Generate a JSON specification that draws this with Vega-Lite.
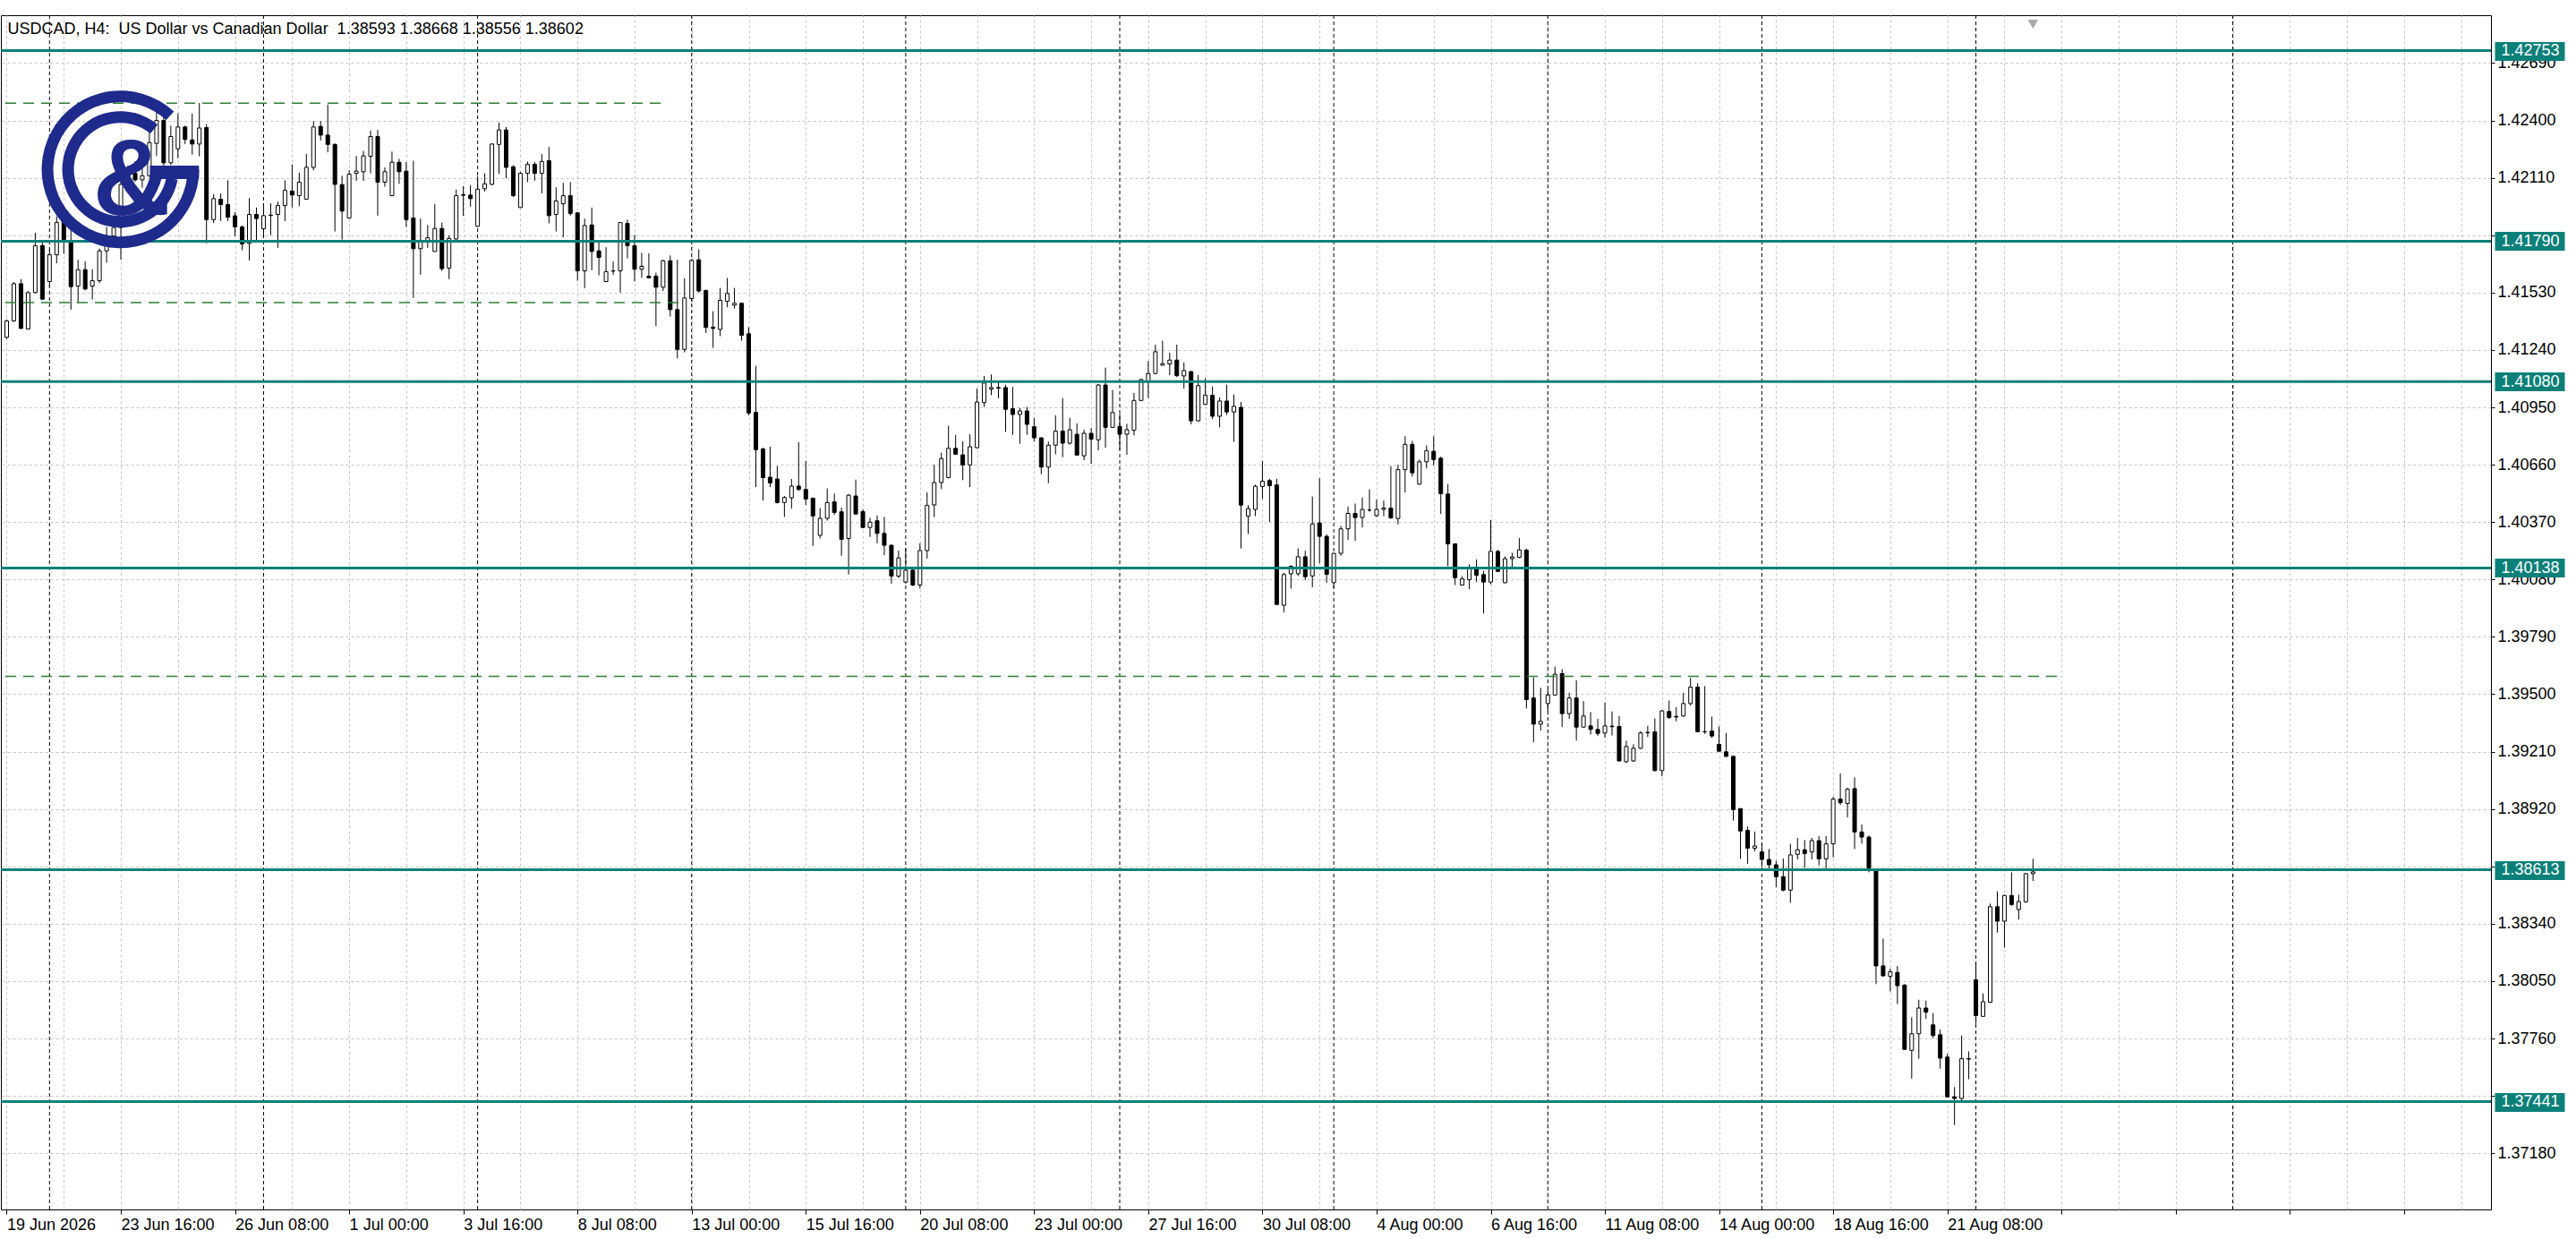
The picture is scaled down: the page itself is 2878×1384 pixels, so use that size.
{
"$schema": "https://vega.github.io/schema/vega-lite/v6.json",
"width": 2782, "height": 1334,
"autosize": {"type": "none"},
"padding": {"left": 1, "top": 17, "right": 95, "bottom": 33},
"background": "white",
"view": {"stroke": "black", "strokeWidth": 1, "fill": "white"},
"config": {"font": "Liberation Sans"},
"title": {"text": "USDCAD, H4:\u00a0 US Dollar vs Canadian Dollar\u00a0 1.38593 1.38668 1.38556 1.38602", "anchor": "start", "offset": -39, "baseline": "alphabetic", "font": "Liberation Sans", "fontSize": 18, "fontWeight": "normal", "color": "black", "dx": 9},
"resolve": {"axis": {"x": "independent", "y": "independent"}},
"datasets": {
"seps": [{"i":6},{"i":36},{"i":66},{"i":96},{"i":126},{"i":156},{"i":186},{"i":216},{"i":246},{"i":276},{"i":312}],
"levels": [{"p":1.42753},{"p":1.41790},{"p":1.41080},{"p":1.40138},{"p":1.38613},{"p":1.37441}],
"dashes": [{"x1":-0.1875,"x2":92,"y":1.42487},{"x1":-0.1875,"x2":94.6,"y":1.41479},{"x1":-0.1875,"x2":287.5,"y":1.39590}],
"candles": [
{"i":0,"o":1.41304,"h":1.41394,"l":1.41296,"c":1.41387},
{"i":1,"o":1.41387,"h":1.41583,"l":1.41382,"c":1.41575},
{"i":2,"o":1.41575,"h":1.41598,"l":1.41346,"c":1.41349},
{"i":3,"o":1.41346,"h":1.41538,"l":1.41344,"c":1.41530},
{"i":4,"o":1.41530,"h":1.41832,"l":1.41527,"c":1.41767},
{"i":5,"o":1.41768,"h":1.41786,"l":1.41492,"c":1.41497},
{"i":6,"o":1.41586,"h":1.41749,"l":1.41560,"c":1.41721},
{"i":7,"o":1.41721,"h":1.41915,"l":1.41678,"c":1.41884},
{"i":8,"o":1.41892,"h":1.41915,"l":1.41726,"c":1.41798},
{"i":9,"o":1.41789,"h":1.41847,"l":1.41444,"c":1.41560},
{"i":10,"o":1.41563,"h":1.41696,"l":1.41477,"c":1.41646},
{"i":11,"o":1.41646,"h":1.41688,"l":1.41542,"c":1.41548},
{"i":12,"o":1.41563,"h":1.41648,"l":1.41495,"c":1.41590},
{"i":13,"o":1.41590,"h":1.41753,"l":1.41578,"c":1.41741},
{"i":14,"o":1.41741,"h":1.41862,"l":1.41681,"c":1.41816},
{"i":15,"o":1.41816,"h":1.41915,"l":1.41779,"c":1.41859},
{"i":16,"o":1.41859,"h":1.42166,"l":1.41696,"c":1.42077},
{"i":17,"o":1.42077,"h":1.42171,"l":1.42050,"c":1.42133},
{"i":18,"o":1.42133,"h":1.42193,"l":1.42090,"c":1.42100},
{"i":19,"o":1.42100,"h":1.42160,"l":1.42060,"c":1.42121},
{"i":20,"o":1.42121,"h":1.42337,"l":1.42115,"c":1.42288},
{"i":21,"o":1.42284,"h":1.42442,"l":1.42221,"c":1.42400},
{"i":22,"o":1.42400,"h":1.42423,"l":1.42151,"c":1.42186},
{"i":23,"o":1.42186,"h":1.42374,"l":1.42175,"c":1.42319},
{"i":24,"o":1.42257,"h":1.42435,"l":1.42209,"c":1.42367},
{"i":25,"o":1.42367,"h":1.42374,"l":1.42281,"c":1.42304},
{"i":26,"o":1.42302,"h":1.42435,"l":1.42227,"c":1.42281},
{"i":27,"o":1.42281,"h":1.42488,"l":1.42219,"c":1.42362},
{"i":28,"o":1.42364,"h":1.42382,"l":1.41779,"c":1.41899},
{"i":29,"o":1.41899,"h":1.42028,"l":1.41881,"c":1.42005},
{"i":30,"o":1.42002,"h":1.42031,"l":1.41892,"c":1.41975},
{"i":31,"o":1.41975,"h":1.42098,"l":1.41892,"c":1.41911},
{"i":32,"o":1.41918,"h":1.41937,"l":1.41816,"c":1.41862},
{"i":33,"o":1.41862,"h":1.41869,"l":1.41744,"c":1.41776},
{"i":34,"o":1.41779,"h":1.42008,"l":1.41693,"c":1.41925},
{"i":35,"o":1.41925,"h":1.41960,"l":1.41794,"c":1.41904},
{"i":36,"o":1.41853,"h":1.41982,"l":1.41809,"c":1.41919},
{"i":37,"o":1.41922,"h":1.41982,"l":1.41821,"c":1.41920},
{"i":38,"o":1.41925,"h":1.41990,"l":1.41756,"c":1.41970},
{"i":39,"o":1.41970,"h":1.42098,"l":1.41892,"c":1.42047},
{"i":40,"o":1.42043,"h":1.42178,"l":1.41960,"c":1.42023},
{"i":41,"o":1.42020,"h":1.42136,"l":1.41967,"c":1.42088},
{"i":42,"o":1.42002,"h":1.42231,"l":1.42000,"c":1.42163},
{"i":43,"o":1.42163,"h":1.42397,"l":1.42148,"c":1.42367},
{"i":44,"o":1.42370,"h":1.42397,"l":1.42299,"c":1.42326},
{"i":45,"o":1.42326,"h":1.42480,"l":1.42239,"c":1.42279},
{"i":46,"o":1.42279,"h":1.42284,"l":1.41839,"c":1.42077},
{"i":47,"o":1.42076,"h":1.42121,"l":1.41798,"c":1.41942},
{"i":48,"o":1.41907,"h":1.42148,"l":1.41904,"c":1.42129},
{"i":49,"o":1.42133,"h":1.42221,"l":1.42095,"c":1.42144},
{"i":50,"o":1.42141,"h":1.42246,"l":1.42095,"c":1.42221},
{"i":51,"o":1.42219,"h":1.42349,"l":1.42133,"c":1.42319},
{"i":52,"o":1.42319,"h":1.42352,"l":1.41919,"c":1.42088},
{"i":53,"o":1.42088,"h":1.42163,"l":1.42065,"c":1.42141},
{"i":54,"o":1.42020,"h":1.42243,"l":1.42017,"c":1.42189},
{"i":55,"o":1.42189,"h":1.42206,"l":1.42080,"c":1.42141},
{"i":56,"o":1.42144,"h":1.42190,"l":1.41862,"c":1.41899},
{"i":57,"o":1.41907,"h":1.42197,"l":1.41503,"c":1.41752},
{"i":58,"o":1.41752,"h":1.41904,"l":1.41620,"c":1.41789},
{"i":59,"o":1.41794,"h":1.41872,"l":1.41756,"c":1.41807},
{"i":60,"o":1.41738,"h":1.41978,"l":1.41737,"c":1.41854},
{"i":61,"o":1.41854,"h":1.41884,"l":1.41640,"c":1.41651},
{"i":62,"o":1.41654,"h":1.41820,"l":1.41598,"c":1.41804},
{"i":63,"o":1.41801,"h":1.42050,"l":1.41798,"c":1.42020},
{"i":64,"o":1.42025,"h":1.42068,"l":1.41918,"c":1.42022},
{"i":65,"o":1.42023,"h":1.42073,"l":1.41964,"c":1.42005},
{"i":66,"o":1.41865,"h":1.42118,"l":1.41862,"c":1.42053},
{"i":67,"o":1.42055,"h":1.42133,"l":1.42040,"c":1.42080},
{"i":68,"o":1.42077,"h":1.42284,"l":1.42073,"c":1.42281},
{"i":69,"o":1.42279,"h":1.42390,"l":1.42130,"c":1.42352},
{"i":70,"o":1.42352,"h":1.42367,"l":1.42108,"c":1.42163},
{"i":71,"o":1.42166,"h":1.42174,"l":1.42013,"c":1.42020},
{"i":72,"o":1.41960,"h":1.42141,"l":1.41958,"c":1.42133},
{"i":73,"o":1.42133,"h":1.42193,"l":1.42088,"c":1.42178},
{"i":74,"o":1.42178,"h":1.42190,"l":1.42095,"c":1.42133},
{"i":75,"o":1.42133,"h":1.42231,"l":1.42032,"c":1.42193},
{"i":76,"o":1.42197,"h":1.42266,"l":1.41880,"c":1.41919},
{"i":77,"o":1.41925,"h":1.42062,"l":1.41839,"c":1.41993},
{"i":78,"o":1.41979,"h":1.42085,"l":1.41809,"c":1.42020},
{"i":79,"o":1.42020,"h":1.42088,"l":1.41919,"c":1.41930},
{"i":80,"o":1.41933,"h":1.41937,"l":1.41590,"c":1.41640},
{"i":81,"o":1.41640,"h":1.41904,"l":1.41553,"c":1.41869},
{"i":82,"o":1.41872,"h":1.41960,"l":1.41643,"c":1.41738},
{"i":83,"o":1.41741,"h":1.41786,"l":1.41617,"c":1.41708},
{"i":84,"o":1.41586,"h":1.41759,"l":1.41583,"c":1.41636},
{"i":85,"o":1.41640,"h":1.41687,"l":1.41620,"c":1.41639},
{"i":86,"o":1.41640,"h":1.41886,"l":1.41530,"c":1.41884},
{"i":87,"o":1.41880,"h":1.41899,"l":1.41703,"c":1.41767},
{"i":88,"o":1.41767,"h":1.41821,"l":1.41587,"c":1.41648},
{"i":89,"o":1.41648,"h":1.41731,"l":1.41605,"c":1.41663},
{"i":90,"o":1.41613,"h":1.41729,"l":1.41602,"c":1.41605},
{"i":91,"o":1.41613,"h":1.41631,"l":1.41361,"c":1.41557},
{"i":92,"o":1.41557,"h":1.41696,"l":1.41538,"c":1.41691},
{"i":93,"o":1.41691,"h":1.41718,"l":1.41409,"c":1.41444},
{"i":94,"o":1.41444,"h":1.41696,"l":1.41198,"c":1.41243},
{"i":95,"o":1.41243,"h":1.41602,"l":1.41228,"c":1.41503},
{"i":96,"o":1.41500,"h":1.41699,"l":1.41485,"c":1.41693},
{"i":97,"o":1.41696,"h":1.41749,"l":1.41530,"c":1.41538},
{"i":98,"o":1.41541,"h":1.41545,"l":1.41326,"c":1.41354},
{"i":99,"o":1.41355,"h":1.41436,"l":1.41251,"c":1.41349},
{"i":100,"o":1.41344,"h":1.41554,"l":1.41310,"c":1.41491},
{"i":101,"o":1.41486,"h":1.41604,"l":1.41456,"c":1.41526},
{"i":102,"o":1.41467,"h":1.41554,"l":1.41449,"c":1.41476},
{"i":103,"o":1.41476,"h":1.41480,"l":1.41287,"c":1.41314},
{"i":104,"o":1.41322,"h":1.41355,"l":1.40910,"c":1.40922},
{"i":105,"o":1.40925,"h":1.41159,"l":1.40547,"c":1.40736},
{"i":106,"o":1.40740,"h":1.40746,"l":1.40479,"c":1.40595},
{"i":107,"o":1.40597,"h":1.40751,"l":1.40547,"c":1.40568},
{"i":108,"o":1.40588,"h":1.40653,"l":1.40464,"c":1.40469},
{"i":109,"o":1.40469,"h":1.40502,"l":1.40396,"c":1.40494},
{"i":110,"o":1.40493,"h":1.40588,"l":1.40438,"c":1.40552},
{"i":111,"o":1.40552,"h":1.40774,"l":1.40529,"c":1.40535},
{"i":112,"o":1.40535,"h":1.40679,"l":1.40457,"c":1.40487},
{"i":113,"o":1.40491,"h":1.40494,"l":1.40250,"c":1.40401},
{"i":114,"o":1.40303,"h":1.40441,"l":1.40287,"c":1.40389},
{"i":115,"o":1.40389,"h":1.40540,"l":1.40378,"c":1.40469},
{"i":116,"o":1.40472,"h":1.40514,"l":1.40407,"c":1.40419},
{"i":117,"o":1.40422,"h":1.40444,"l":1.40200,"c":1.40283},
{"i":118,"o":1.40287,"h":1.40512,"l":1.40106,"c":1.40506},
{"i":119,"o":1.40502,"h":1.40585,"l":1.40408,"c":1.40411},
{"i":120,"o":1.40423,"h":1.40434,"l":1.40339,"c":1.40343},
{"i":121,"o":1.40343,"h":1.40392,"l":1.40295,"c":1.40370},
{"i":122,"o":1.40377,"h":1.40404,"l":1.40263,"c":1.40313},
{"i":123,"o":1.40313,"h":1.40396,"l":1.40203,"c":1.40253},
{"i":124,"o":1.40253,"h":1.40257,"l":1.40059,"c":1.40097},
{"i":125,"o":1.40097,"h":1.40226,"l":1.40087,"c":1.40189},
{"i":126,"o":1.40067,"h":1.40238,"l":1.40059,"c":1.40127},
{"i":127,"o":1.40127,"h":1.40132,"l":1.40046,"c":1.40052},
{"i":128,"o":1.40052,"h":1.40263,"l":1.40034,"c":1.40226},
{"i":129,"o":1.40226,"h":1.40521,"l":1.40185,"c":1.40454},
{"i":130,"o":1.40457,"h":1.40660,"l":1.40396,"c":1.40570},
{"i":131,"o":1.40570,"h":1.40721,"l":1.40537,"c":1.40691},
{"i":132,"o":1.40595,"h":1.40857,"l":1.40592,"c":1.40743},
{"i":133,"o":1.40743,"h":1.40811,"l":1.40710,"c":1.40713},
{"i":134,"o":1.40710,"h":1.40778,"l":1.40582,"c":1.40659},
{"i":135,"o":1.40659,"h":1.40814,"l":1.40547,"c":1.40751},
{"i":136,"o":1.40746,"h":1.41045,"l":1.40743,"c":1.40977},
{"i":137,"o":1.40974,"h":1.41109,"l":1.40952,"c":1.41073},
{"i":138,"o":1.41042,"h":1.41116,"l":1.41012,"c":1.41050},
{"i":139,"o":1.41050,"h":1.41079,"l":1.40996,"c":1.41047},
{"i":140,"o":1.41050,"h":1.41065,"l":1.40826,"c":1.40940},
{"i":141,"o":1.40943,"h":1.41053,"l":1.40811,"c":1.40914},
{"i":142,"o":1.40914,"h":1.40947,"l":1.40766,"c":1.40932},
{"i":143,"o":1.40932,"h":1.40952,"l":1.40811,"c":1.40864},
{"i":144,"o":1.40852,"h":1.40897,"l":1.40778,"c":1.40796},
{"i":145,"o":1.40796,"h":1.40799,"l":1.40612,"c":1.40648},
{"i":146,"o":1.40648,"h":1.40777,"l":1.40567,"c":1.40759},
{"i":147,"o":1.40759,"h":1.40910,"l":1.40713,"c":1.40830},
{"i":148,"o":1.40830,"h":1.40997,"l":1.40698,"c":1.40769},
{"i":149,"o":1.40769,"h":1.40897,"l":1.40762,"c":1.40837},
{"i":150,"o":1.40814,"h":1.40869,"l":1.40705,"c":1.40709},
{"i":151,"o":1.40705,"h":1.40837,"l":1.40683,"c":1.40819},
{"i":152,"o":1.40819,"h":1.40846,"l":1.40665,"c":1.40789},
{"i":153,"o":1.40786,"h":1.41068,"l":1.40733,"c":1.41063},
{"i":154,"o":1.41063,"h":1.41151,"l":1.40746,"c":1.40849},
{"i":155,"o":1.40849,"h":1.41038,"l":1.40846,"c":1.40924},
{"i":156,"o":1.40853,"h":1.40917,"l":1.40736,"c":1.40814},
{"i":157,"o":1.40814,"h":1.40867,"l":1.40710,"c":1.40837},
{"i":158,"o":1.40834,"h":1.41023,"l":1.40808,"c":1.40985},
{"i":159,"o":1.40985,"h":1.41094,"l":1.40982,"c":1.41091},
{"i":160,"o":1.41078,"h":1.41184,"l":1.40997,"c":1.41121},
{"i":161,"o":1.41121,"h":1.41267,"l":1.41118,"c":1.41231},
{"i":162,"o":1.41163,"h":1.41287,"l":1.41162,"c":1.41171},
{"i":163,"o":1.41169,"h":1.41226,"l":1.41113,"c":1.41189},
{"i":164,"o":1.41189,"h":1.41267,"l":1.41103,"c":1.41110},
{"i":165,"o":1.41109,"h":1.41177,"l":1.41045,"c":1.41136},
{"i":166,"o":1.41131,"h":1.41133,"l":1.40864,"c":1.40882},
{"i":167,"o":1.40882,"h":1.41113,"l":1.40879,"c":1.41060},
{"i":168,"o":1.40965,"h":1.41098,"l":1.40962,"c":1.41012},
{"i":169,"o":1.41011,"h":1.41056,"l":1.40890,"c":1.40905},
{"i":170,"o":1.40905,"h":1.41000,"l":1.40849,"c":1.40982},
{"i":171,"o":1.40982,"h":1.41065,"l":1.40912,"c":1.40927},
{"i":172,"o":1.40927,"h":1.41015,"l":1.40776,"c":1.40955},
{"i":173,"o":1.40950,"h":1.40977,"l":1.40237,"c":1.40456},
{"i":174,"o":1.40400,"h":1.40456,"l":1.40310,"c":1.40438},
{"i":175,"o":1.40434,"h":1.40559,"l":1.40400,"c":1.40551},
{"i":176,"o":1.40550,"h":1.40680,"l":1.40487,"c":1.40577},
{"i":177,"o":1.40580,"h":1.40589,"l":1.40370,"c":1.40554},
{"i":178,"o":1.40558,"h":1.40589,"l":1.39950,"c":1.39954},
{"i":179,"o":1.39950,"h":1.40114,"l":1.39913,"c":1.40105},
{"i":180,"o":1.40109,"h":1.40151,"l":1.40034,"c":1.40147},
{"i":181,"o":1.40109,"h":1.40237,"l":1.40098,"c":1.40195},
{"i":182,"o":1.40195,"h":1.40225,"l":1.40076,"c":1.40094},
{"i":183,"o":1.40098,"h":1.40499,"l":1.40041,"c":1.40361},
{"i":184,"o":1.40366,"h":1.40592,"l":1.40162,"c":1.40298},
{"i":185,"o":1.40298,"h":1.40308,"l":1.40064,"c":1.40106},
{"i":186,"o":1.40064,"h":1.40215,"l":1.40037,"c":1.40212},
{"i":187,"o":1.40212,"h":1.40351,"l":1.40200,"c":1.40336},
{"i":188,"o":1.40336,"h":1.40449,"l":1.40280,"c":1.40414},
{"i":189,"o":1.40414,"h":1.40464,"l":1.40275,"c":1.40393},
{"i":190,"o":1.40393,"h":1.40494,"l":1.40343,"c":1.40434},
{"i":191,"o":1.40431,"h":1.40535,"l":1.40423,"c":1.40431},
{"i":192,"o":1.40403,"h":1.40484,"l":1.40396,"c":1.40434},
{"i":193,"o":1.40434,"h":1.40479,"l":1.40400,"c":1.40441},
{"i":194,"o":1.40441,"h":1.40653,"l":1.40388,"c":1.40391},
{"i":195,"o":1.40388,"h":1.40660,"l":1.40358,"c":1.40635},
{"i":196,"o":1.40635,"h":1.40804,"l":1.40520,"c":1.40763},
{"i":197,"o":1.40763,"h":1.40781,"l":1.40600,"c":1.40619},
{"i":198,"o":1.40562,"h":1.40686,"l":1.40559,"c":1.40675},
{"i":199,"o":1.40675,"h":1.40758,"l":1.40641,"c":1.40731},
{"i":200,"o":1.40728,"h":1.40804,"l":1.40656,"c":1.40686},
{"i":201,"o":1.40693,"h":1.40701,"l":1.40411,"c":1.40514},
{"i":202,"o":1.40512,"h":1.40562,"l":1.40147,"c":1.40260},
{"i":203,"o":1.40260,"h":1.40263,"l":1.40052,"c":1.40089},
{"i":204,"o":1.40052,"h":1.40097,"l":1.40049,"c":1.40083},
{"i":205,"o":1.40079,"h":1.40157,"l":1.40031,"c":1.40139},
{"i":206,"o":1.40139,"h":1.40182,"l":1.40067,"c":1.40101},
{"i":207,"o":1.40105,"h":1.40124,"l":1.39908,"c":1.40067},
{"i":208,"o":1.40067,"h":1.40381,"l":1.40056,"c":1.40222},
{"i":209,"o":1.40222,"h":1.40230,"l":1.40117,"c":1.40121},
{"i":210,"o":1.40064,"h":1.40197,"l":1.40061,"c":1.40185},
{"i":211,"o":1.40185,"h":1.40215,"l":1.40132,"c":1.40194},
{"i":212,"o":1.40192,"h":1.40290,"l":1.40188,"c":1.40230},
{"i":213,"o":1.40228,"h":1.40236,"l":1.39428,"c":1.39473},
{"i":214,"o":1.39481,"h":1.39586,"l":1.39257,"c":1.39349},
{"i":215,"o":1.39349,"h":1.39533,"l":1.39317,"c":1.39363},
{"i":216,"o":1.39453,"h":1.39526,"l":1.39413,"c":1.39496},
{"i":217,"o":1.39496,"h":1.39639,"l":1.39493,"c":1.39601},
{"i":218,"o":1.39604,"h":1.39627,"l":1.39334,"c":1.39402},
{"i":219,"o":1.39402,"h":1.39508,"l":1.39375,"c":1.39481},
{"i":220,"o":1.39481,"h":1.39571,"l":1.39266,"c":1.39334},
{"i":221,"o":1.39334,"h":1.39465,"l":1.39330,"c":1.39390},
{"i":222,"o":1.39340,"h":1.39410,"l":1.39296,"c":1.39322},
{"i":223,"o":1.39322,"h":1.39376,"l":1.39289,"c":1.39302},
{"i":224,"o":1.39304,"h":1.39458,"l":1.39280,"c":1.39340},
{"i":225,"o":1.39339,"h":1.39413,"l":1.39292,"c":1.39336},
{"i":226,"o":1.39337,"h":1.39390,"l":1.39160,"c":1.39163},
{"i":227,"o":1.39159,"h":1.39265,"l":1.39153,"c":1.39236},
{"i":228,"o":1.39163,"h":1.39247,"l":1.39159,"c":1.39227},
{"i":229,"o":1.39227,"h":1.39314,"l":1.39224,"c":1.39304},
{"i":230,"o":1.39307,"h":1.39340,"l":1.39284,"c":1.39305},
{"i":231,"o":1.39310,"h":1.39378,"l":1.39111,"c":1.39114},
{"i":232,"o":1.39114,"h":1.39420,"l":1.39085,"c":1.39416},
{"i":233,"o":1.39413,"h":1.39468,"l":1.39375,"c":1.39382},
{"i":234,"o":1.39388,"h":1.39435,"l":1.39363,"c":1.39385},
{"i":235,"o":1.39390,"h":1.39508,"l":1.39387,"c":1.39453},
{"i":236,"o":1.39453,"h":1.39582,"l":1.39443,"c":1.39536},
{"i":237,"o":1.39536,"h":1.39556,"l":1.39310,"c":1.39311},
{"i":238,"o":1.39311,"h":1.39541,"l":1.39299,"c":1.39310},
{"i":239,"o":1.39314,"h":1.39387,"l":1.39280,"c":1.39289},
{"i":240,"o":1.39247,"h":1.39337,"l":1.39209,"c":1.39212},
{"i":241,"o":1.39209,"h":1.39304,"l":1.39182,"c":1.39186},
{"i":242,"o":1.39186,"h":1.39191,"l":1.38861,"c":1.38917},
{"i":243,"o":1.38922,"h":1.38922,"l":1.38668,"c":1.38809},
{"i":244,"o":1.38812,"h":1.38831,"l":1.38643,"c":1.38722},
{"i":245,"o":1.38722,"h":1.38806,"l":1.38706,"c":1.38733},
{"i":246,"o":1.38703,"h":1.38748,"l":1.38627,"c":1.38665},
{"i":247,"o":1.38665,"h":1.38718,"l":1.38615,"c":1.38638},
{"i":248,"o":1.38638,"h":1.38658,"l":1.38525,"c":1.38578},
{"i":249,"o":1.38578,"h":1.38670,"l":1.38504,"c":1.38510},
{"i":250,"o":1.38510,"h":1.38744,"l":1.38446,"c":1.38688},
{"i":251,"o":1.38691,"h":1.38774,"l":1.38665,"c":1.38714},
{"i":252,"o":1.38714,"h":1.38763,"l":1.38623,"c":1.38695},
{"i":253,"o":1.38703,"h":1.38774,"l":1.38665,"c":1.38760},
{"i":254,"o":1.38760,"h":1.38783,"l":1.38635,"c":1.38668},
{"i":255,"o":1.38668,"h":1.38783,"l":1.38615,"c":1.38744},
{"i":256,"o":1.38744,"h":1.38982,"l":1.38676,"c":1.38970},
{"i":257,"o":1.38970,"h":1.39100,"l":1.38940,"c":1.38952},
{"i":258,"o":1.38948,"h":1.39028,"l":1.38877,"c":1.39020},
{"i":259,"o":1.39023,"h":1.39080,"l":1.38718,"c":1.38804},
{"i":260,"o":1.38804,"h":1.38842,"l":1.38745,"c":1.38778},
{"i":261,"o":1.38778,"h":1.38786,"l":1.38600,"c":1.38622},
{"i":262,"o":1.38608,"h":1.38613,"l":1.38035,"c":1.38127},
{"i":263,"o":1.38127,"h":1.38265,"l":1.38072,"c":1.38077},
{"i":264,"o":1.38074,"h":1.38114,"l":1.37997,"c":1.38097},
{"i":265,"o":1.38094,"h":1.38127,"l":1.37934,"c":1.38027},
{"i":266,"o":1.38030,"h":1.38035,"l":1.37703,"c":1.37705},
{"i":267,"o":1.37700,"h":1.37867,"l":1.37557,"c":1.37784},
{"i":268,"o":1.37784,"h":1.37956,"l":1.37658,"c":1.37914},
{"i":269,"o":1.37914,"h":1.37951,"l":1.37859,"c":1.37893},
{"i":270,"o":1.37829,"h":1.37889,"l":1.37762,"c":1.37775},
{"i":271,"o":1.37779,"h":1.37805,"l":1.37608,"c":1.37661},
{"i":272,"o":1.37666,"h":1.37683,"l":1.37462,"c":1.37465},
{"i":273,"o":1.37465,"h":1.37515,"l":1.37323,"c":1.37457},
{"i":274,"o":1.37457,"h":1.37775,"l":1.37448,"c":1.37658},
{"i":275,"o":1.37658,"h":1.37695,"l":1.37554,"c":1.37656},
{"i":276,"o":1.38057,"h":1.38144,"l":1.37834,"c":1.37876},
{"i":277,"o":1.37872,"h":1.37988,"l":1.37871,"c":1.37946},
{"i":278,"o":1.37943,"h":1.38442,"l":1.37940,"c":1.38426},
{"i":279,"o":1.38426,"h":1.38504,"l":1.38295,"c":1.38353},
{"i":280,"o":1.38353,"h":1.38487,"l":1.38219,"c":1.38483},
{"i":281,"o":1.38483,"h":1.38600,"l":1.38429,"c":1.38437},
{"i":282,"o":1.38412,"h":1.38487,"l":1.38362,"c":1.38452},
{"i":283,"o":1.38451,"h":1.38597,"l":1.38446,"c":1.38593},
{"i":284,"o":1.38593,"h":1.38668,"l":1.38556,"c":1.38602}
]
},
"layer": [
{
"data": {"name": "seps"},
"mark": {"type": "rule", "color": "black", "strokeWidth": 1, "strokeDash": [4, 3]},
"encoding": {
"x": {"field": "i", "type": "quantitative", "scale": {"domain": [-0.1875, 347.5625], "nice": false, "zero": false},
"axis": {"title": null, "orient": "bottom", "values": [0,8,16,24,32,40,48,56,64,72,80,88,96,104,112,120,128,136,144,152,160,168,176,184,192,200,208,216,224,232,240,248,256,264,272,280,288,296,304,312,320,328,336,344],
"grid": true, "gridColor": "#c4c4c4", "gridDash": [3, 3], "gridWidth": 1, "domain": false,
"ticks": true, "tickSize": 5, "tickColor": "black", "tickOpacity": {"condition": {"test": "datum.value % 16 !== 0", "value": 0}, "value": 1},
"labelExpr": "['19 Jun 2026','23 Jun 16:00','26 Jun 08:00','1 Jul 00:00','3 Jul 16:00','8 Jul 08:00','13 Jul 00:00','15 Jul 16:00','20 Jul 08:00','23 Jul 00:00','27 Jul 16:00','30 Jul 08:00','4 Aug 00:00','6 Aug 16:00','11 Aug 08:00','14 Aug 00:00','18 Aug 16:00','21 Aug 08:00'][datum.value / 16] || ''",
"labelAlign": "left", "labelBaseline": "top", "labelPadding": 3, "labelFont": "Liberation Sans", "labelFontSize": 18, "labelColor": "black",
"labelOverlap": false, "labelFlush": false, "labelBound": false}}
}
},
{
"data": {"name": "candles"},
"mark": {"type": "rule", "color": "black", "strokeWidth": 1},
"encoding": {
"x": {"field": "i", "type": "quantitative", "scale": {"domain": [-0.1875, 347.5625], "nice": false, "zero": false}, "axis": null},
"y": {"field": "l", "type": "quantitative", "scale": {"domain": [1.36896, 1.42932], "nice": false, "zero": false},
"axis": {"title": null, "orient": "right", "values": [1.3718,1.3747,1.3776,1.3805,1.3834,1.3863,1.3892,1.3921,1.395,1.3979,1.4008,1.4037,1.4066,1.4095,1.4124,1.4153,1.4182,1.4211,1.424,1.4269],
"format": ".5f", "labelExpr": "(abs(datum.value - 1.4182) < 0.00001 || abs(datum.value - 1.3863) < 0.00001 || abs(datum.value - 1.3747) < 0.00001) ? '' : datum.label",
"grid": true, "gridColor": "#c4c4c4", "gridDash": [3, 3], "gridWidth": 1, "domain": false,
"ticks": true, "tickSize": 4, "tickColor": "black", "labelPadding": 3, "labelFont": "Liberation Sans", "labelFontSize": 18, "labelColor": "black",
"labelBaseline": "middle", "labelOverlap": false, "labelFlush": false, "labelBound": false}},
"y2": {"field": "h"}
}
},
{
"data": {"name": "candles"},
"mark": {"type": "bar", "width": 4, "stroke": "black", "strokeWidth": 1},
"encoding": {
"x": {"field": "i", "type": "quantitative", "scale": {"domain": [-0.1875, 347.5625], "nice": false, "zero": false}, "axis": null},
"y": {"field": "o", "type": "quantitative", "scale": {"domain": [1.36896, 1.42932], "nice": false, "zero": false}, "axis": null},
"y2": {"field": "c"},
"fill": {"condition": {"test": "datum.c >= datum.o", "value": "white"}, "value": "black"}
}
},
{
"data": {"name": "dashes"},
"mark": {"type": "rule", "color": "#2f7d34", "strokeWidth": 1.5, "strokeDash": [12, 8]},
"encoding": {
"x": {"field": "x1", "type": "quantitative", "scale": {"domain": [-0.1875, 347.5625], "nice": false, "zero": false}, "axis": null},
"x2": {"field": "x2"},
"y": {"field": "y", "type": "quantitative", "scale": {"domain": [1.36896, 1.42932], "nice": false, "zero": false}, "axis": null}
}
},
{
"data": {"name": "levels"},
"mark": {"type": "rule", "color": "#0b8079", "strokeWidth": 3},
"encoding": {
"y": {"field": "p", "type": "quantitative", "scale": {"domain": [1.36896, 1.42932], "nice": false, "zero": false},
"axis": {"title": null, "orient": "right", "values": [1.42753, 1.4179, 1.4108, 1.40138, 1.38613, 1.37441], "format": ".5f",
"grid": false, "domain": false, "offset": 4, "ticks": true, "tickSize": 78, "tickWidth": 21, "tickColor": "#0b8079",
"labelPadding": -71, "labelColor": "white", "labelFont": "Liberation Sans", "labelFontSize": 18, "labelBaseline": "middle",
"labelOverlap": false, "labelFlush": false, "labelBound": false, "zindex": 1}}
}
},
{
"data": {"values": [{}]},
"mark": {"type": "arc", "radius": 88, "radius2": 75, "theta": 1.571, "theta2": 7.03, "color": "#1e2a8c"},
"encoding": {
"x": {"datum": 15.94, "type": "quantitative", "scale": {"domain": [-0.1875, 347.5625], "nice": false, "zero": false}, "axis": null},
"y": {"datum": 1.42153, "type": "quantitative", "scale": {"domain": [1.36896, 1.42932], "nice": false, "zero": false}, "axis": null}
}
},
{
"data": {"values": [{}]},
"mark": {"type": "arc", "radius": 65, "radius2": 52, "theta": 1.75, "theta2": 6.98, "color": "#1e2a8c"},
"encoding": {
"x": {"datum": 15.94, "type": "quantitative", "scale": {"domain": [-0.1875, 347.5625], "nice": false, "zero": false}, "axis": null},
"y": {"datum": 1.42153, "type": "quantitative", "scale": {"domain": [1.36896, 1.42932], "nice": false, "zero": false}, "axis": null}
}
},
{
"data": {"values": [{}]},
"mark": {"type": "rect", "color": "#1e2a8c"},
"encoding": {
"x": {"datum": 20.06, "type": "quantitative", "scale": {"domain": [-0.1875, 347.5625], "nice": false, "zero": false}, "axis": null},
"x2": {"datum": 26.94},
"y": {"datum": 1.42172, "type": "quantitative", "scale": {"domain": [1.36896, 1.42932], "nice": false, "zero": false}, "axis": null},
"y2": {"datum": 1.42104}
}
},
{
"data": {"values": [{}]},
"mark": {"type": "text", "text": "&", "font": "Liberation Sans", "fontWeight": "bold", "fontSize": 120, "align": "center", "baseline": "alphabetic", "color": "#1e2a8c"},
"encoding": {
"x": {"datum": 17.5, "type": "quantitative", "scale": {"domain": [-0.1875, 347.5625], "nice": false, "zero": false}, "axis": null},
"y": {"datum": 1.41923, "type": "quantitative", "scale": {"domain": [1.36896, 1.42932], "nice": false, "zero": false}, "axis": null}
}
},
{
"data": {"values": [{}]},
"mark": {"type": "point", "shape": "triangle-down", "size": 130, "filled": true, "color": "#a9a9a9", "opacity": 1},
"encoding": {
"x": {"datum": 284, "type": "quantitative", "scale": {"domain": [-0.1875, 347.5625], "nice": false, "zero": false}, "axis": null},
"y": {"datum": 1.42887, "type": "quantitative", "scale": {"domain": [1.36896, 1.42932], "nice": false, "zero": false}, "axis": null}
}
}
]
}
